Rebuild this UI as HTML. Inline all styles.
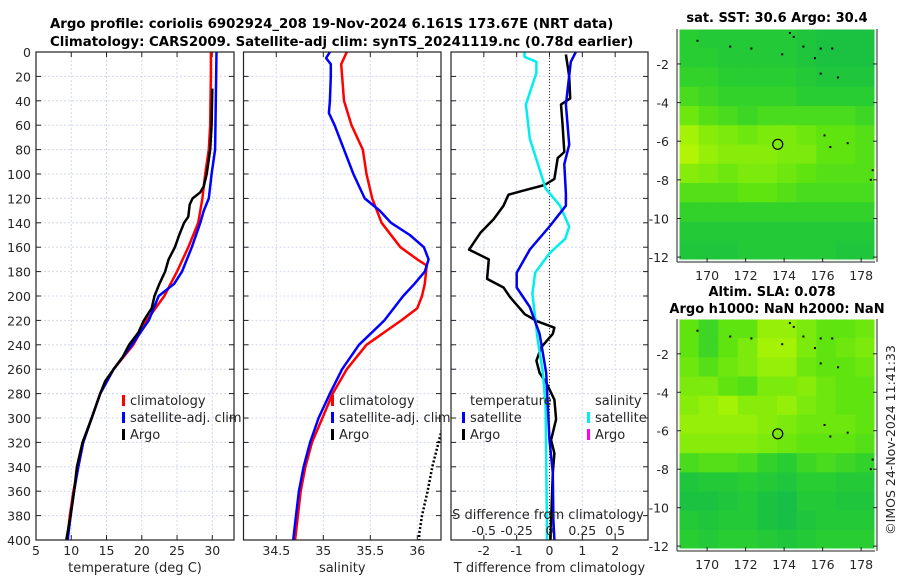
<!DOCTYPE html>
<html><head><meta charset="utf-8"><style>
body{margin:0;background:#fff;}
svg{display:block;font-family:"DejaVu Sans","Liberation Sans",sans-serif;}
</style></head><body>
<svg id="fig" width="900" height="580" viewBox="0 0 900 580" xmlns="http://www.w3.org/2000/svg">
<text x="50" y="28" font-size="13.3" font-weight="bold" fill="#000">Argo profile: coriolis 6902924_208 19-Nov-2024 6.161S 173.67E (NRT data)</text>
<text x="50" y="46" font-size="13.3" font-weight="bold" fill="#000">Climatology: CARS2009. Satellite-adj clim: synTS_20241119.nc (0.78d earlier)</text>
<text x="777" y="22" font-size="13" font-weight="bold" text-anchor="middle">sat. SST: 30.6 Argo: 30.4</text>
<text x="772" y="296" font-size="13" font-weight="bold" text-anchor="middle">Altim. SLA: 0.078</text>
<text x="777" y="313" font-size="13" font-weight="bold" text-anchor="middle">Argo h1000: NaN h2000: NaN</text>
<text transform="translate(895,440) rotate(-90)" font-size="12.5" text-anchor="middle" fill="#262626">©IMOS 24-Nov-2024 11:41:33</text>
<g id="layer"></g>
</svg>
<script>
// ---- data ----
var tDepth=[0,20,40,60,80,100,120,140,160,180,200,220,240,260,280,300,320,340,360,380,400];
var tClim=[29.8,29.8,29.75,29.7,29.5,29.0,28.6,28.0,26.6,25.0,23.2,20.7,18.8,16.0,14.1,12.9,11.7,11.0,10.3,9.8,9.4];
var tSatDepth=[0,40,80,100,120,130,140,160,180,190,200,220,240,260,280,300,320,340,360,380,400];
var tSat=[30.6,30.5,30.4,29.9,29.5,28.8,28.3,27.1,25.7,24.6,22.4,21.0,18.6,16.0,14.1,12.9,11.7,11.0,10.4,9.9,9.5];
var tArgoDepth=[30,60,80,100,110,115,120,125,135,140,150,160,170,180,190,200,210,220,230,240,250,260,270,280,300,320,340,360,380,400];
var tArgo=[30.0,29.9,29.7,29.2,28.8,28.3,27.2,26.8,26.6,26.0,25.3,24.7,23.8,23.3,22.5,21.8,21.4,20.3,19.5,18.2,17.3,16.0,14.8,14.1,12.9,11.6,10.8,10.4,9.9,9.3];
var sClimDepth=[0,10,40,60,80,100,120,140,160,170,175,190,200,210,220,240,260,280,300,320,340,360,380,400];
var sClim=[35.25,35.19,35.22,35.3,35.42,35.46,35.52,35.62,35.82,36.0,36.1,36.08,36.05,36.0,35.83,35.46,35.25,35.1,34.99,34.88,34.81,34.76,34.73,34.7];
var sSatDepth=[0,5,10,20,40,50,60,80,100,120,130,140,150,160,170,180,190,200,220,240,260,280,300,320,340,360,380,400];
var sSat=[35.07,35.03,35.08,35.08,35.07,35.06,35.12,35.22,35.32,35.44,35.6,35.72,35.92,36.07,36.12,36.08,35.97,35.85,35.65,35.38,35.2,35.07,34.95,34.86,34.79,34.74,34.71,34.68];
var sArgoDepth=[300,310,340,360,380,395,400];
var sArgo=[36.3,36.26,36.16,36.11,36.05,36.02,36.02];
var dSatDepth=[0,8,43,76,92,116,126,143,162,181,193,209,231,263,318,345,384,400];
var dTSat=[0.8,0.65,0.5,0.6,0.45,0.5,0.5,0.0,-0.6,-1.0,-1.0,-0.6,-0.3,-0.1,0.0,0.1,0.12,0.15];
var dArgoDepth=[2,20,38,43,60,82,87,104,109,114,117,126,137,148,162,170,186,193,201,215,221,226,231,242,253,263,271,285,301,318,329,345,384,400];
var dTArgo=[0.5,0.6,0.63,0.35,0.4,0.45,0.25,0.15,-0.15,-0.85,-1.25,-1.4,-1.7,-2.1,-2.45,-1.85,-1.9,-1.4,-1.2,-0.75,-0.35,0.15,0.1,-0.25,-0.4,-0.3,-0.1,0.15,0.2,0.05,0.15,0.1,0.05,0.03];
var dSDepth=[0,4,8,17,43,71,98,112,126,143,153,165,181,198,236,263,290,384,400];
var dSSat=[-0.19,-0.19,-0.1,-0.1,-0.18,-0.15,-0.07,-0.03,0.08,0.15,0.12,0.0,-0.11,-0.13,-0.09,-0.05,-0.03,-0.02,-0.02];
var depthTicks=[0,20,40,60,80,100,120,140,160,180,200,220,240,260,280,300,320,340,360,380,400];
var tTicks=[5,10,15,20,25,30];
var sTicks=[34.5,35,35.5,36];
var dTTicks=[-2,-1,0,1,2];
var dSTicks=[-0.5,-0.25,0,0.25,0.5];
var dSTickLabels=["-0.5","-0.25","0","0.25","0.5"];
var lonTicks=[170,172,174,176,178];
var latTicks=[-2,-4,-6,-8,-10,-12];
var sstGrid=[
[.35,.3,.3,.3,.3,.3,.25,.2,.2,.2],
[.35,.35,.3,.3,.3,.3,.25,.2,.2,.2],
[.4,.4,.35,.35,.35,.35,.3,.25,.25,.25],
[.5,.45,.4,.4,.4,.4,.35,.35,.35,.35],
[.65,.55,.5,.45,.5,.5,.5,.5,.5,.45],
[.85,.75,.7,.65,.7,.7,.65,.6,.6,.55],
[.9,.8,.75,.75,.75,.7,.7,.6,.6,.55],
[.75,.7,.65,.7,.7,.65,.6,.55,.55,.55],
[.55,.55,.55,.6,.6,.55,.5,.5,.5,.5],
[.4,.4,.4,.4,.4,.4,.4,.4,.4,.4],
[.3,.3,.3,.3,.3,.3,.3,.3,.3,.3],
[.25,.25,.25,.3,.3,.3,.3,.3,.25,.25]];
var slaGrid=[
[.6,.45,.6,.6,.8,.8,.7,.6,.6,.65],
[.6,.45,.6,.7,.85,.85,.7,.6,.65,.7],
[.65,.55,.65,.7,.8,.8,.65,.6,.6,.65],
[.7,.7,.6,.55,.7,.7,.75,.65,.6,.6],
[.75,.8,.85,.75,.75,.8,.7,.65,.6,.6],
[.8,.8,.8,.8,.75,.7,.65,.65,.65,.6],
[.75,.75,.75,.75,.7,.65,.6,.6,.6,.55],
[.5,.55,.55,.5,.4,.35,.45,.5,.45,.4],
[.25,.3,.3,.35,.3,.25,.35,.35,.3,.3],
[.2,.2,.25,.3,.2,.15,.3,.3,.25,.25],
[.3,.25,.3,.3,.2,.15,.25,.3,.3,.3],
[.35,.3,.35,.35,.3,.25,.3,.35,.35,.35]];
var coastLon=[169.5,171.2,172.3,173.9,174.3,174.5,175.0,175.6,175.9,176.5,175.9,176.8,176.1,176.4,177.3,178.5,178.6];
var coastLat=[-0.8,-1.1,-1.2,-1.5,-0.4,-0.6,-1.1,-1.7,-1.2,-1.2,-2.5,-2.7,-5.7,-6.3,-6.1,-8.0,-7.5];
var argoLon=[173.67];
var argoLat=[-6.16];

// ---- helpers ----
var NS="http://www.w3.org/2000/svg";
var layer=document.getElementById('layer');
function mk(tag,attrs,parent){var e=document.createElementNS(NS,tag);for(var k in attrs)e.setAttribute(k,attrs[k]);(parent||layer).appendChild(e);return e;}
var TOP=52,BOT=540;
function yD(d){return TOP+(BOT-TOP)*d/400;}
function lin(d0,d1,p0,p1){return function(v){return p0+(v-d0)*(p1-p0)/(d1-d0);};}

function panel(name,x0,x1,xs,ticks,labels,showY,xlabel){
  var g=mk('g',{});
  
  
  depthTicks.forEach(function(d){
    var l=mk('line',{x1:x0,x2:x1,y1:yD(d),y2:yD(d),stroke:'#d4d8ee','stroke-width':1,'stroke-dasharray':'2,2'},g);
    
    
    mk('line',{x1:x0,x2:x0+5,y1:yD(d),y2:yD(d),stroke:'#222'},g);
    mk('line',{x1:x1-5,x2:x1,y1:yD(d),y2:yD(d),stroke:'#222'},g);
    if(showY){var t=mk('text',{x:x0-5,y:yD(d)+5,'font-size':12.5,'text-anchor':'end',fill:'#262626'},g);t.textContent=d;
      
      }
  });
  ticks.forEach(function(v,i){
    var x=xs(v);
    var l=mk('line',{x1:x,x2:x,y1:TOP,y2:BOT,stroke:'#d4d8ee','stroke-width':1,'stroke-dasharray':'2,2'},g);
    
    
    mk('line',{x1:x,x2:x,y1:BOT-5,y2:BOT,stroke:'#222'},g);
    mk('line',{x1:x,x2:x,y1:TOP,y2:TOP+5,stroke:'#222'},g);
    var t=mk('text',{x:x,y:BOT+15,'font-size':12.5,'text-anchor':'middle',fill:'#262626'},g);t.textContent=labels[i];
    
    
  });
  var lab=mk('text',{x:(x0+x1)/2,y:BOT+32,'font-size':13,'text-anchor':'middle',fill:'#262626'},g);lab.textContent=xlabel;
  
  
  return g;
}
function series(name,g,xs,vals,depths,color,w,dash,clip){
  var pts=vals.map(function(v,i){return xs(v).toFixed(1)+','+yD(depths[i]).toFixed(1);}).join(' ');
  var a={points:pts,fill:'none',stroke:color,'stroke-width':w,'stroke-linejoin':'round'};
  if(dash)a['stroke-dasharray']=dash;
  if(clip)a['clip-path']='url(#'+clip+')';
  var p=mk('polyline',a,g);
  
  
}
function frame(g,x0,x1){mk('rect',{x:x0,y:TOP,width:x1-x0,height:BOT-TOP,fill:'none',stroke:'#222','stroke-width':1.2},g);}
function legend(g,x,y,items){
  items.forEach(function(it,i){
    var yy=y+i*17;
    var m=mk('rect',{x:x,y:yy-10,width:3,height:11,fill:it[1]},g);
    
    
    var t=mk('text',{x:x+8,y:yy,'font-size':13,fill:'#262626'},g);t.textContent=it[0];
    
    
  });
}
var defs=mk('defs',{});
[['c1',36,234],['c2',243.5,441],['c3',451,648]].forEach(function(c){var cp=mk('clipPath',{id:c[0]},defs);mk('rect',{x:c[1],y:TOP,width:c[2]-c[1],height:BOT-TOP},cp);});

// panel 1 temperature
var xT=lin(5,30,36,212.3);
var g1=panel('temperature-panel',36,234,xT,tTicks,tTicks,true,'temperature (deg C)');
series('temp-climatology-line',g1,xT,tClim,tDepth,'#ff0000',2.5,null,'c1');
series('temp-satellite-line',g1,xT,tSat,tSatDepth,'#0000ff',2.5,null,'c1');
series('temp-argo-line',g1,xT,tArgo,tArgoDepth,'#000',2.5,null,'c1');
frame(g1,36,234);
legend(g1,122,405,[['climatology','#ff0000'],['satellite-adj. clim','#0000ff'],['Argo','#000']]);

// panel 2 salinity
var xS=lin(34.5,36,276.3,417.3);
var g2=panel('salinity-panel',243.5,441,xS,sTicks,sTicks,false,'salinity');
series('sal-climatology-line',g2,xS,sClim,sClimDepth,'#ff0000',2.5,null,'c2');
series('sal-satellite-line',g2,xS,sSat,sSatDepth,'#0000ff',2.5,null,'c2');
series('sal-argo-line',g2,xS,sArgo,sArgoDepth,'#000',2.5,'2,2','c2');
frame(g2,243.5,441);
legend(g2,331,405,[['climatology','#ff0000'],['satellite-adj. clim','#0000ff'],['Argo','#000']]);

// panel 3 differences
var xD=lin(-3,3,451,648);
var xDS=lin(-0.75,0.75,451,648);
var g3=panel('difference-panel',451,648,xD,dTTicks,dTTicks,false,'T difference from climatology');
var z=mk('line',{x1:xD(0),x2:xD(0),y1:TOP,y2:BOT,stroke:'#333','stroke-dasharray':'1,2'},g3);


series('tdiff-argo-line',g3,xD,dTArgo,dArgoDepth,'#000',2.5,null,'c3');
series('sdiff-satellite-line',g3,xDS,dSSat,dSDepth,'#00eeee',2.5,null,'c3');
series('tdiff-satellite-line',g3,xD,dTSat,dSatDepth,'#0000ee',2.5,null,'c3');
frame(g3,451,648);
var lt=mk('text',{x:470,y:405,'font-size':13,fill:'#262626'},g3);lt.textContent='temperature';


var ls=mk('text',{x:595,y:405,'font-size':13,fill:'#262626'},g3);ls.textContent='salinity';


legend(g3,462,422,[['satellite','#0000ee'],['Argo','#000']]);
legend(g3,587,422,[['satellite','#00eeee'],['Argo','#ff00ff']]);
var st=mk('text',{x:548,y:519,'font-size':13,'text-anchor':'middle',fill:'#262626'},g3);st.textContent='S difference from climatology';


dSTicks.forEach(function(v,i){var t=mk('text',{x:xDS(v),y:535,'font-size':12.5,'text-anchor':'middle',fill:'#262626'},g3);t.textContent=dSTickLabels[i];
  
  });

// maps
var stops=[[0,[10,180,85]],[0.35,[40,205,50]],[0.6,[95,228,16]],[1,[205,250,0]]];
function cmap(v){for(var i=1;i<stops.length;i++){if(v<=stops[i][0]){var a=stops[i-1],b=stops[i],f=(v-a[0])/(b[0]-a[0]);return 'rgb('+[0,1,2].map(function(k){return Math.round(a[1][k]+f*(b[1][k]-a[1][k]));}).join(',')+')';}}return 'rgb(205,250,0)';}
function map(name,grid,y0,y1){
  var x0=679,x1=875;
  var lonS=lin(168.54,178.72,x0,x1), latS=lin(-0.19,-12.15,y0,y1);
  var g=mk('g',{});
  
  
  var nr=grid.length,nc=grid[0].length,cw=(x1-x0)/nc,ch=(y1-y0)/nr;
  grid.forEach(function(row,r){row.forEach(function(v,c){
    var cell=mk('rect',{x:(x0+c*cw).toFixed(2),y:(y0+r*ch).toFixed(2),width:(cw+0.6).toFixed(2),height:(ch+0.6).toFixed(2),fill:cmap(v)},g);
    
    
  });});
  coastLon.forEach(function(lo,i){var d=mk('rect',{x:lonS(lo)-1,y:latS(coastLat[i])-1,width:2,height:2,fill:'#000'},g);
    
    });
  argoLon.forEach(function(lo,i){var c=mk('circle',{cx:lonS(lo),cy:latS(argoLat[i]),r:5,fill:'none',stroke:'#000','stroke-width':1.2},g);
    
    });
  mk('rect',{x:x0,y:y0,width:x1-x0,height:y1-y0,fill:'none',stroke:'#fff','stroke-width':1},g);
  mk('line',{x1:x0-2,x2:x0-2,y1:y0,y2:y1+2,stroke:'#222'},g);
  mk('line',{x1:x0-2,x2:x1,y1:y1+2,y2:y1+2,stroke:'#222'},g);
  mk('line',{x1:x1+2,x2:x1+2,y1:y0,y2:y1+2,stroke:'#222'},g);
  lonTicks.forEach(function(v){var x=lonS(v);mk('line',{x1:x,x2:x,y1:y1-2,y2:y1+2,stroke:'#222'},g);
    var t=mk('text',{x:x,y:y1+20,'font-size':12.5,'text-anchor':'middle',fill:'#262626'},g);t.textContent=v;
    
    });
  latTicks.forEach(function(v){var y=latS(v);mk('line',{x1:x0-2,x2:x0+2,y1:y,y2:y,stroke:'#222'},g);mk('line',{x1:x1-2,x2:x1+2,y1:y,y2:y,stroke:'#222'},g);
    var t=mk('text',{x:x0-10,y:y+5,'font-size':12.5,'text-anchor':'end',fill:'#262626'},g);t.textContent=v;
    
    });
}
map('sst-map',sstGrid,29,260);
map('sla-map',slaGrid,319,549);
</script>
</body></html>
